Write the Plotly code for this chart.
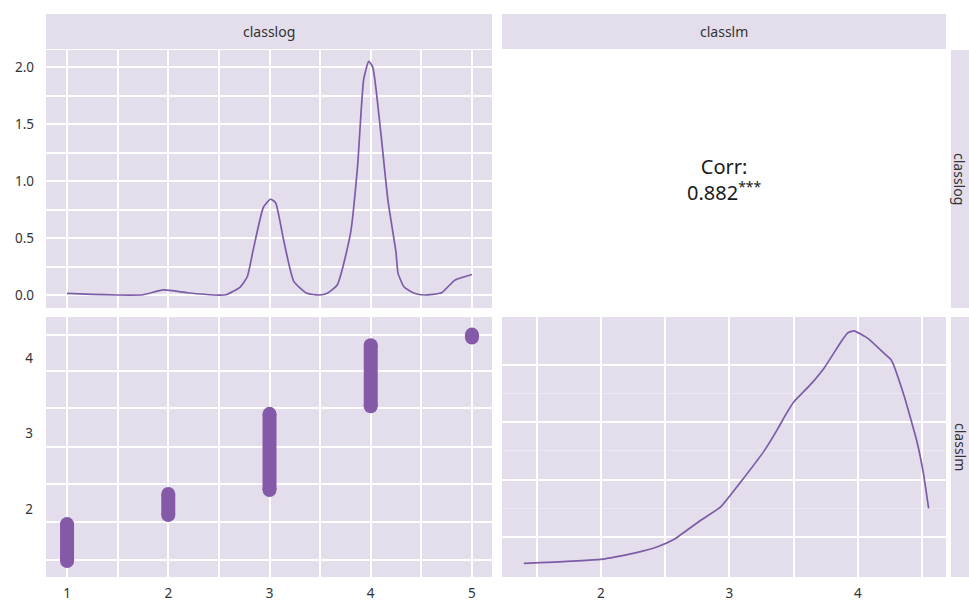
import plotly.graph_objects as go

# ---------------- data ----------------
# density of classlog (diagonal, top-left)
dens_log_x = [1.0, 1.25, 1.49, 1.75, 1.95, 2.19, 2.45, 2.57, 2.71, 2.78, 2.84, 2.94, 3.01, 3.06,
              3.14, 3.24, 3.37, 3.49, 3.57, 3.67, 3.80, 3.87, 3.93, 3.98, 4.02, 4.10, 4.17,
              4.25, 4.27, 4.33, 4.43, 4.53, 4.70, 4.83, 5.0]
dens_log_y = [0.015, 0.006, 0.0, 0.002, 0.045, 0.02, 0.0, 0.002, 0.07, 0.16, 0.40, 0.77, 0.84, 0.81,
              0.48, 0.12, 0.015, 0.0, 0.015, 0.09, 0.54, 1.13, 1.89, 2.05, 2.0, 1.42, 0.83,
              0.37, 0.19, 0.07, 0.015, 0.0, 0.02, 0.13, 0.18]

# scatter classlog (x) vs classlm (y): range of classlm within each class
class_vals = [1, 2, 3, 4, 5]
lm_min = [1.31, 1.92, 2.25, 3.36, 4.27]
lm_max = [1.80, 2.20, 3.26, 4.17, 4.31]

# density of classlm (diagonal, bottom-right)
dens_lm_x = [1.40, 2.0, 2.26, 2.44, 2.57, 2.78, 2.93, 3.11, 3.27, 3.38, 3.43, 3.50, 3.63, 3.74,
             3.87, 3.92, 3.97, 4.08, 4.20, 4.26, 4.36, 4.46, 4.51, 4.55]
dens_lm_y = [0.009, 0.023, 0.045, 0.067, 0.093, 0.16, 0.205, 0.305, 0.40, 0.48, 0.52, 0.57, 0.63, 0.69,
             0.78, 0.81, 0.817, 0.79, 0.74, 0.715, 0.59, 0.43, 0.32, 0.20]

corr_value = "0.882"
corr_stars = "***"
var_names = ["classlog", "classlm"]

# ---------------- style ----------------
BG = "#E4DDEC"
PURPLE_LINE = "#7D5CA7"
PURPLE_PT = "#8459A8"
TXT = "#333333"
FONT = "Noto Sans"
W, H = 969, 602

def px_x(p):
    return p / W

def px_y(p):
    return 1 - p / H

L0, L1 = px_x(46), px_x(492)
R0, R1 = px_x(502), px_x(946)
T0, T1 = px_y(308), px_y(50)
B0, B1 = px_y(577), px_y(317)

fig = go.Figure()

# top-left density
fig.add_trace(go.Scatter(x=dens_log_x, y=dens_log_y, mode="lines", xaxis="x", yaxis="y",
                         line=dict(color=PURPLE_LINE, width=1.7, shape="spline", smoothing=0.5),
                         showlegend=False, hoverinfo="skip"))

# bottom-left scatter: thick vertical streaks with round ends
for cx, lo, hi in zip(class_vals, lm_min, lm_max):
    fig.add_trace(go.Scatter(x=[cx, cx], y=[lo, hi], mode="lines+markers", xaxis="x2", yaxis="y2",
                             line=dict(color=PURPLE_PT, width=14),
                             marker=dict(color=PURPLE_PT, size=14, line=dict(width=0)),
                             showlegend=False, hoverinfo="skip"))

# bottom-right density
fig.add_trace(go.Scatter(x=dens_lm_x, y=dens_lm_y, mode="lines", xaxis="x3", yaxis="y3",
                         line=dict(color=PURPLE_LINE, width=1.7, shape="spline", smoothing=0.4),
                         showlegend=False, hoverinfo="skip"))

grid_major = dict(showgrid=True, gridcolor="white", gridwidth=2.4, zeroline=False,
                  showline=False, ticks="")
tickfont = dict(family=FONT, size=13.5, color=TXT)

fig.update_layout(
    width=W, height=H, margin=dict(l=0, r=0, t=0, b=0),
    paper_bgcolor="white", plot_bgcolor=BG,
    font=dict(family=FONT, color=TXT),
    xaxis=dict(domain=[L0, L1], range=[0.792, 5.198], anchor="y", tickvals=[1, 2, 3, 4, 5],
               showticklabels=False,
               minor=dict(tickvals=[1.5, 2.5, 3.5, 4.5], showgrid=True, gridcolor="white", gridwidth=1.5),
               **grid_major),
    yaxis=dict(domain=[T0, T1], range=[-0.114, 2.15], anchor="x", tickvals=[0, 0.5, 1.0, 1.5, 2.0],
               ticktext=["0.0", "0.5", "1.0", "1.5", "2.0"], tickfont=tickfont, ticklabelstandoff=11,
               minor=dict(tickvals=[0.25, 0.75, 1.25, 1.75], showgrid=True, gridcolor="white", gridwidth=1.5),
               **grid_major),
    xaxis2=dict(domain=[L0, L1], range=[0.792, 5.198], anchor="y2", tickvals=[1, 2, 3, 4, 5],
                tickfont=tickfont, ticklabelstandoff=6,
                minor=dict(tickvals=[1.5, 2.5, 3.5, 4.5], showgrid=True, gridcolor="white", gridwidth=1.5),
                **grid_major),
    yaxis2=dict(domain=[B0, B1], range=[1.099, 4.543], anchor="x2", tickvals=[2, 3, 4],
                tickfont=tickfont, ticklabelstandoff=12, showgrid=False, zeroline=False, ticks="",
                minor=dict(tickvals=[1.32, 1.83, 2.33, 2.82, 3.34, 3.83, 4.30], showgrid=True,
                           gridcolor="white", gridwidth=2.2)),
    xaxis3=dict(domain=[R0, R1], range=[1.23, 4.685], anchor="y3", tickvals=[2, 3, 4],
                tickfont=tickfont, ticklabelstandoff=6,
                minor=dict(tickvals=[1.5, 2.5, 3.5, 4.5], showgrid=True, gridcolor="white", gridwidth=1.5),
                **grid_major),
    yaxis3=dict(domain=[B0, B1], range=[-0.038, 0.865], anchor="x3", tickvals=[0.1, 0.3, 0.5, 0.7],
                showticklabels=False,
                minor=dict(tickvals=[0.2, 0.4, 0.6], showgrid=True, gridcolor="rgba(255,255,255,0.35)",
                           gridwidth=1.2),
                **grid_major),
)

# strips
shapes = []
strip_top = (px_y(49), px_y(14))
for (a, b) in [(L0, L1), (R0, R1)]:
    shapes.append(dict(type="rect", xref="paper", yref="paper", x0=a, x1=b, y0=strip_top[0], y1=strip_top[1],
                       fillcolor=BG, line=dict(width=0), layer="below"))
for (a, b) in [(T0, T1), (B0, B1)]:
    shapes.append(dict(type="rect", xref="paper", yref="paper", x0=px_x(951), x1=1.0, y0=a, y1=b,
                       fillcolor=BG, line=dict(width=0), layer="below"))
fig.update_layout(shapes=shapes)

ann = []
for name, (a, b) in zip(var_names, [(L0, L1), (R0, R1)]):
    ann.append(dict(text=name, xref="paper", yref="paper", x=(a + b) / 2, y=(strip_top[0] + strip_top[1]) / 2,
                    showarrow=False, font=dict(family=FONT, size=14, color=TXT), xanchor="center", yanchor="middle"))
for name, (a, b) in zip(var_names, [(T0, T1), (B0, B1)]):
    ann.append(dict(text=name, xref="paper", yref="paper", x=(px_x(951) + 1.0) / 2, y=(a + b) / 2,
                    showarrow=False, textangle=90, font=dict(family=FONT, size=14, color=TXT),
                    xanchor="center", yanchor="middle"))
ann.append(dict(text="Corr:<br>" + corr_value + "<sup>" + corr_stars + "</sup>", xref="paper", yref="paper",
                x=px_x(724), y=px_y(180), showarrow=False, align="center",
                font=dict(family=FONT, size=20, color="#1a1a1a"), xanchor="center", yanchor="middle"))
fig.update_layout(annotations=ann)

fig.write_html("out.html")
